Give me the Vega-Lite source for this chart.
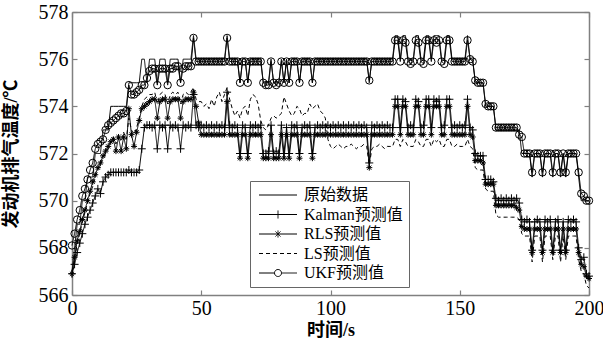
{
"$schema":"https://vega.github.io/schema/vega-lite/v6.json",
"width":517,"height":283,
"autosize":{"type":"none"},
"padding":{"left":72,"top":12,"right":14,"bottom":57},
"background":"white",
"config":{"view":{"stroke":null},"font":"'Liberation Serif', 'Times New Roman', serif",
"axis":{"domainColor":"#808080","domainWidth":1.5,"tickColor":"#808080","tickSize":-5,"tickWidth":1.2,"grid":false,"labelFont":"'Liberation Serif', 'Times New Roman', serif","labelFontSize":20,"labelColor":"black","labelFlush":false,"labelOverlap":false,"labelPadding":5,"titleFont":"'Liberation Serif', 'Noto Sans CJK SC', serif","titleFontSize":18,"titleFontWeight":"bold","titleColor":"black"}},
"data":{"values":[
{"t":0,"o":567,"k":566.9,"r":566.9,"l":567.0,"u":568.1},
{"t":1,"o":568,"k":567.3,"r":567.6,"l":567.5,"u":568.6},
{"t":2,"o":569,"k":567.8,"r":568.3,"l":568.2,"u":569.2},
{"t":3,"o":569,"k":568.2,"r":568.7,"l":568.6,"u":569.6},
{"t":4,"o":570,"k":568.6,"r":569.2,"l":569.1,"u":570.2},
{"t":5,"o":570,"k":569.0,"r":569.6,"l":569.5,"u":570.5},
{"t":6,"o":571,"k":569.3,"r":570.0,"l":569.9,"u":570.9},
{"t":7,"o":571,"k":569.6,"r":570.4,"l":570.3,"u":571.3},
{"t":8,"o":571,"k":569.9,"r":570.8,"l":570.6,"u":571.6},
{"t":9,"o":572,"k":570.2,"r":571.1,"l":571.0,"u":572.2},
{"t":10,"o":572,"k":570.5,"r":571.4,"l":571.3,"u":572.4},
{"t":11,"o":572,"k":570.3,"r":571.6,"l":571.5,"u":572.5},
{"t":12,"o":573,"k":570.8,"r":571.9,"l":571.8,"u":572.6},
{"t":13,"o":573,"k":571.0,"r":572.1,"l":572.0,"u":573.0},
{"t":14,"o":573,"k":571.1,"r":572.3,"l":572.2,"u":573.2},
{"t":15,"o":574,"k":571.2,"r":572.5,"l":572.5,"u":573.3},
{"t":16,"o":574,"k":571.2,"r":572.6,"l":572.7,"u":573.4},
{"t":17,"o":574,"k":571.2,"r":572.1,"l":572.4,"u":573.5},
{"t":18,"o":574,"k":571.2,"r":572.7,"l":572.8,"u":573.6},
{"t":19,"o":574,"k":571.2,"r":572.1,"l":572.5,"u":573.7},
{"t":20,"o":574,"k":571.2,"r":572.7,"l":572.9,"u":573.7},
{"t":21,"o":574,"k":571.2,"r":572.2,"l":572.6,"u":573.8},
{"t":22,"o":575,"k":571.3,"r":573.9,"l":573.5,"u":574.9},
{"t":23,"o":575,"k":571.2,"r":572.8,"l":573.0,"u":574.5},
{"t":24,"o":575,"k":571.2,"r":572.3,"l":572.8,"u":574.5},
{"t":25,"o":575,"k":571.2,"r":572.9,"l":573.1,"u":574.6},
{"t":26,"o":575,"k":571.3,"r":573.4,"l":573.5,"u":574.7},
{"t":27,"o":576,"k":572.2,"r":573.9,"l":574.0,"u":574.9},
{"t":28,"o":576,"k":573.1,"r":574.0,"l":574.3,"u":574.9},
{"t":29,"o":575,"k":573.2,"r":574.1,"l":574.4,"u":575.2},
{"t":30,"o":576,"k":573.2,"r":574.2,"l":574.5,"u":575.5},
{"t":31,"o":576,"k":573.1,"r":574.3,"l":574.5,"u":575.6},
{"t":32,"o":576,"k":573.2,"r":574.3,"l":574.6,"u":575.6},
{"t":33,"o":575,"k":572.2,"r":573.5,"l":574.1,"u":574.9},
{"t":34,"o":576,"k":573.2,"r":574.2,"l":574.5,"u":575.6},
{"t":35,"o":576,"k":573.1,"r":574.3,"l":574.6,"u":575.6},
{"t":36,"o":576,"k":573.2,"r":574.3,"l":574.5,"u":575.6},
{"t":37,"o":575,"k":572.2,"r":573.5,"l":574.1,"u":574.9},
{"t":38,"o":576,"k":573.2,"r":574.2,"l":574.5,"u":575.6},
{"t":39,"o":576,"k":573.1,"r":574.3,"l":574.6,"u":575.6},
{"t":40,"o":576,"k":573.2,"r":574.3,"l":574.5,"u":575.7},
{"t":41,"o":576,"k":573.1,"r":574.3,"l":574.6,"u":575.7},
{"t":42,"o":575,"k":572.2,"r":573.5,"l":574.1,"u":575.0},
{"t":43,"o":576,"k":573.2,"r":574.2,"l":574.5,"u":575.6},
{"t":44,"o":576,"k":573.1,"r":574.3,"l":574.6,"u":575.7},
{"t":45,"o":576,"k":573.2,"r":574.3,"l":574.5,"u":575.7},
{"t":46,"o":576,"k":573.1,"r":574.3,"l":574.6,"u":575.7},
{"t":47,"o":577,"k":574.5,"r":574.6,"l":574.8,"u":576.9},
{"t":48,"o":576,"k":573.2,"r":574.0,"l":574.3,"u":575.9},
{"t":49,"o":576,"k":573.1,"r":573.3,"l":574.2,"u":575.9},
{"t":50,"o":576,"k":573.2,"r":572.8,"l":574.2,"u":575.9},
{"t":51,"o":576,"k":573.1,"r":572.8,"l":574.0,"u":575.9},
{"t":52,"o":576,"k":573.2,"r":572.8,"l":574.1,"u":575.9},
{"t":53,"o":576,"k":573.1,"r":572.8,"l":573.9,"u":575.9},
{"t":54,"o":576,"k":573.2,"r":572.8,"l":574.3,"u":575.9},
{"t":55,"o":576,"k":573.1,"r":572.8,"l":574.0,"u":575.9},
{"t":56,"o":576,"k":573.2,"r":572.8,"l":574.4,"u":575.9},
{"t":57,"o":576,"k":573.1,"r":572.8,"l":574.6,"u":575.9},
{"t":58,"o":576,"k":573.2,"r":572.8,"l":574.2,"u":575.9},
{"t":59,"o":576,"k":573.1,"r":572.8,"l":574.5,"u":575.9},
{"t":60,"o":577,"k":574.6,"r":574.2,"l":574.8,"u":576.9},
{"t":61,"o":576,"k":573.2,"r":572.8,"l":574.3,"u":575.9},
{"t":62,"o":576,"k":573.1,"r":572.8,"l":573.9,"u":575.9},
{"t":63,"o":576,"k":573.2,"r":572.8,"l":573.6,"u":575.9},
{"t":64,"o":576,"k":573.1,"r":572.8,"l":573.8,"u":575.9},
{"t":65,"o":575,"k":572.0,"r":571.8,"l":573.5,"u":575.0},
{"t":66,"o":576,"k":573.2,"r":572.8,"l":573.9,"u":575.9},
{"t":67,"o":576,"k":573.1,"r":572.8,"l":574.0,"u":575.9},
{"t":68,"o":575,"k":572.0,"r":571.8,"l":573.6,"u":575.0},
{"t":69,"o":576,"k":573.2,"r":572.8,"l":574.3,"u":575.9},
{"t":70,"o":576,"k":573.1,"r":572.8,"l":574.5,"u":575.9},
{"t":71,"o":576,"k":573.2,"r":572.8,"l":574.4,"u":575.9},
{"t":72,"o":576,"k":573.1,"r":572.8,"l":574.1,"u":575.9},
{"t":73,"o":576,"k":573.2,"r":572.8,"l":573.4,"u":575.9},
{"t":74,"o":575,"k":572.0,"r":571.8,"l":573.1,"u":575.0},
{"t":75,"o":575,"k":572.0,"r":571.8,"l":573.0,"u":574.9},
{"t":76,"o":575,"k":572.1,"r":571.8,"l":573.2,"u":574.9},
{"t":77,"o":576,"k":573.2,"r":572.8,"l":573.5,"u":575.9},
{"t":78,"o":575,"k":572.0,"r":571.8,"l":573.6,"u":575.0},
{"t":79,"o":575,"k":572.1,"r":571.8,"l":573.5,"u":574.9},
{"t":80,"o":575,"k":572.0,"r":571.8,"l":573.6,"u":575.0},
{"t":81,"o":576,"k":573.2,"r":572.8,"l":573.7,"u":575.9},
{"t":82,"o":575,"k":572.0,"r":571.8,"l":574.4,"u":575.0},
{"t":83,"o":576,"k":573.1,"r":572.8,"l":574.1,"u":575.9},
{"t":84,"o":575,"k":572.0,"r":571.8,"l":573.8,"u":575.0},
{"t":85,"o":576,"k":573.2,"r":572.8,"l":573.6,"u":575.9},
{"t":86,"o":576,"k":573.1,"r":572.8,"l":573.7,"u":575.9},
{"t":87,"o":576,"k":573.2,"r":572.8,"l":574.0,"u":575.9},
{"t":88,"o":575,"k":572.0,"r":571.8,"l":573.9,"u":575.0},
{"t":89,"o":576,"k":573.1,"r":572.8,"l":573.6,"u":575.9},
{"t":90,"o":576,"k":573.2,"r":572.8,"l":573.7,"u":575.9},
{"t":91,"o":576,"k":573.1,"r":572.8,"l":573.7,"u":575.9},
{"t":92,"o":576,"k":573.2,"r":572.8,"l":574.1,"u":575.9},
{"t":93,"o":575,"k":572.0,"r":571.8,"l":573.9,"u":575.0},
{"t":94,"o":576,"k":573.1,"r":572.8,"l":574.0,"u":575.9},
{"t":95,"o":576,"k":573.2,"r":572.8,"l":574.1,"u":575.9},
{"t":96,"o":576,"k":573.1,"r":572.8,"l":573.8,"u":575.9},
{"t":97,"o":576,"k":573.2,"r":572.8,"l":573.7,"u":575.9},
{"t":98,"o":576,"k":573.1,"r":572.8,"l":573.5,"u":575.9},
{"t":99,"o":576,"k":573.2,"r":572.8,"l":572.6,"u":575.9},
{"t":100,"o":576,"k":573.1,"r":572.8,"l":572.3,"u":575.9},
{"t":101,"o":576,"k":573.2,"r":572.8,"l":572.2,"u":575.9},
{"t":102,"o":576,"k":573.1,"r":572.8,"l":572.3,"u":575.9},
{"t":103,"o":576,"k":573.2,"r":572.8,"l":572.4,"u":575.9},
{"t":104,"o":576,"k":573.1,"r":572.8,"l":572.3,"u":575.9},
{"t":105,"o":576,"k":573.2,"r":572.8,"l":572.2,"u":575.9},
{"t":106,"o":576,"k":573.1,"r":572.8,"l":572.3,"u":575.9},
{"t":107,"o":576,"k":573.2,"r":572.8,"l":572.3,"u":575.9},
{"t":108,"o":576,"k":573.1,"r":572.8,"l":572.4,"u":575.9},
{"t":109,"o":576,"k":573.2,"r":572.8,"l":572.3,"u":575.9},
{"t":110,"o":576,"k":573.1,"r":572.8,"l":572.2,"u":575.9},
{"t":111,"o":576,"k":573.2,"r":572.8,"l":572.3,"u":575.9},
{"t":112,"o":576,"k":573.1,"r":572.8,"l":572.3,"u":575.9},
{"t":113,"o":576,"k":573.2,"r":572.8,"l":572.4,"u":575.9},
{"t":114,"o":576,"k":573.1,"r":572.8,"l":572.3,"u":575.9},
{"t":115,"o":575,"k":571.6,"r":571.4,"l":571.5,"u":575.1},
{"t":116,"o":576,"k":573.2,"r":572.8,"l":572.2,"u":575.9},
{"t":117,"o":576,"k":573.1,"r":572.8,"l":572.3,"u":575.9},
{"t":118,"o":576,"k":573.2,"r":572.8,"l":572.3,"u":575.9},
{"t":119,"o":576,"k":573.1,"r":572.8,"l":572.4,"u":575.9},
{"t":120,"o":576,"k":573.2,"r":572.8,"l":572.3,"u":575.9},
{"t":121,"o":576,"k":573.1,"r":572.8,"l":572.2,"u":575.9},
{"t":122,"o":576,"k":573.2,"r":572.8,"l":572.3,"u":575.9},
{"t":123,"o":576,"k":573.1,"r":572.8,"l":572.3,"u":575.9},
{"t":124,"o":576,"k":573.1,"r":572.8,"l":572.3,"u":575.9},
{"t":125,"o":577,"k":574.3,"r":574.0,"l":572.6,"u":576.8},
{"t":126,"o":577,"k":574.3,"r":574.0,"l":572.6,"u":576.8},
{"t":127,"o":576,"k":573.1,"r":572.8,"l":572.3,"u":575.9},
{"t":128,"o":577,"k":574.3,"r":574.0,"l":572.6,"u":576.8},
{"t":129,"o":577,"k":574.2,"r":574.0,"l":572.5,"u":576.7},
{"t":130,"o":576,"k":573.1,"r":572.8,"l":572.3,"u":575.9},
{"t":131,"o":576,"k":573.2,"r":572.8,"l":572.3,"u":575.8},
{"t":132,"o":576,"k":573.1,"r":572.8,"l":572.3,"u":575.9},
{"t":133,"o":577,"k":574.3,"r":574.0,"l":572.6,"u":576.8},
{"t":134,"o":577,"k":574.2,"r":574.0,"l":572.5,"u":576.7},
{"t":135,"o":576,"k":573.1,"r":572.8,"l":572.3,"u":575.9},
{"t":136,"o":576,"k":573.2,"r":572.8,"l":572.3,"u":575.8},
{"t":137,"o":577,"k":574.3,"r":574.0,"l":572.6,"u":576.8},
{"t":138,"o":577,"k":574.3,"r":574.0,"l":572.6,"u":576.8},
{"t":139,"o":576,"k":573.1,"r":572.8,"l":572.3,"u":575.9},
{"t":140,"o":577,"k":574.3,"r":574.0,"l":572.6,"u":576.8},
{"t":141,"o":577,"k":574.2,"r":574.0,"l":572.5,"u":576.7},
{"t":142,"o":577,"k":574.3,"r":574.0,"l":572.6,"u":576.8},
{"t":143,"o":576,"k":573.1,"r":572.8,"l":572.3,"u":575.9},
{"t":144,"o":576,"k":573.2,"r":572.8,"l":572.3,"u":575.8},
{"t":145,"o":577,"k":574.3,"r":574.0,"l":572.6,"u":576.8},
{"t":146,"o":577,"k":574.3,"r":574.0,"l":572.6,"u":576.8},
{"t":147,"o":576,"k":573.1,"r":572.8,"l":572.3,"u":575.9},
{"t":148,"o":576,"k":573.2,"r":572.8,"l":572.3,"u":575.9},
{"t":149,"o":576,"k":573.1,"r":572.8,"l":572.4,"u":575.9},
{"t":150,"o":576,"k":573.2,"r":572.8,"l":572.3,"u":575.9},
{"t":151,"o":576,"k":573.1,"r":572.8,"l":572.3,"u":575.9},
{"t":152,"o":576,"k":573.2,"r":572.8,"l":572.3,"u":575.9},
{"t":153,"o":577,"k":574.3,"r":574.0,"l":572.6,"u":576.8},
{"t":154,"o":576,"k":573.1,"r":572.8,"l":572.3,"u":576.0},
{"t":155,"o":576,"k":573.0,"r":572.7,"l":572.2,"u":575.9},
{"t":156,"o":575,"k":572.0,"r":571.7,"l":571.4,"u":575.1},
{"t":157,"o":575,"k":571.9,"r":571.7,"l":571.3,"u":575.0},
{"t":158,"o":575,"k":571.9,"r":571.7,"l":571.3,"u":575.0},
{"t":159,"o":575,"k":571.9,"r":571.6,"l":571.3,"u":575.0},
{"t":160,"o":574,"k":570.9,"r":570.7,"l":570.5,"u":574.1},
{"t":161,"o":574,"k":570.9,"r":570.7,"l":570.4,"u":574.0},
{"t":162,"o":574,"k":570.9,"r":570.7,"l":570.4,"u":574.0},
{"t":163,"o":574,"k":570.8,"r":570.7,"l":570.4,"u":574.0},
{"t":164,"o":573,"k":570.1,"r":569.8,"l":569.4,"u":573.1},
{"t":165,"o":573,"k":570.0,"r":569.8,"l":569.3,"u":573.1},
{"t":166,"o":573,"k":570.1,"r":569.8,"l":569.3,"u":573.1},
{"t":167,"o":573,"k":570.0,"r":569.8,"l":569.3,"u":573.1},
{"t":168,"o":573,"k":570.1,"r":569.8,"l":569.3,"u":573.1},
{"t":169,"o":573,"k":570.0,"r":569.8,"l":569.3,"u":573.1},
{"t":170,"o":573,"k":570.1,"r":569.8,"l":569.3,"u":573.1},
{"t":171,"o":573,"k":570.0,"r":569.8,"l":569.3,"u":573.1},
{"t":172,"o":573,"k":570.1,"r":569.7,"l":569.3,"u":573.1},
{"t":173,"o":573,"k":569.9,"r":569.6,"l":569.2,"u":572.8},
{"t":174,"o":572,"k":569.2,"r":568.9,"l":568.6,"u":572.7},
{"t":175,"o":572,"k":569.1,"r":568.8,"l":568.5,"u":572.0},
{"t":176,"o":572,"k":569.2,"r":568.8,"l":568.5,"u":572.0},
{"t":177,"o":572,"k":569.1,"r":568.8,"l":568.5,"u":572.0},
{"t":178,"o":571,"k":567.9,"r":567.8,"l":567.4,"u":571.2},
{"t":179,"o":572,"k":569.1,"r":568.8,"l":568.5,"u":572.0},
{"t":180,"o":572,"k":569.2,"r":568.8,"l":568.5,"u":572.0},
{"t":181,"o":572,"k":569.1,"r":568.8,"l":568.5,"u":572.0},
{"t":182,"o":571,"k":567.9,"r":567.8,"l":567.4,"u":571.2},
{"t":183,"o":572,"k":569.2,"r":568.8,"l":568.5,"u":572.0},
{"t":184,"o":572,"k":569.1,"r":568.8,"l":568.5,"u":572.0},
{"t":185,"o":572,"k":569.2,"r":568.8,"l":568.5,"u":572.0},
{"t":186,"o":571,"k":567.9,"r":567.8,"l":567.5,"u":571.2},
{"t":187,"o":572,"k":569.1,"r":568.8,"l":568.5,"u":572.0},
{"t":188,"o":572,"k":569.2,"r":568.8,"l":568.5,"u":572.0},
{"t":189,"o":571,"k":567.9,"r":567.8,"l":567.4,"u":571.2},
{"t":190,"o":572,"k":569.1,"r":568.8,"l":568.5,"u":572.0},
{"t":191,"o":571,"k":567.9,"r":567.8,"l":567.5,"u":571.2},
{"t":192,"o":572,"k":569.2,"r":568.8,"l":568.5,"u":572.0},
{"t":193,"o":572,"k":569.1,"r":568.8,"l":568.5,"u":572.0},
{"t":194,"o":572,"k":569.2,"r":568.8,"l":568.5,"u":572.0},
{"t":195,"o":572,"k":569.1,"r":568.8,"l":568.5,"u":572.0},
{"t":196,"o":571,"k":568.0,"r":567.8,"l":567.5,"u":571.2},
{"t":197,"o":570,"k":567.5,"r":567.3,"l":567.0,"u":570.3},
{"t":198,"o":570,"k":567.6,"r":567.2,"l":566.9,"u":570.2},
{"t":199,"o":570,"k":566.9,"r":566.8,"l":566.4,"u":570.0},
{"t":200,"o":570,"k":566.8,"r":566.7,"l":566.3,"u":570.0}
]},
"transform":[{"fold":["o","k","r","l","u"],"as":["s","v"]}],
"layer":[
{"mark":{"type":"line","color":"black","strokeWidth":1},
 "encoding":{
  "x":{"field":"t","type":"quantitative","scale":{"domain":[0,200],"nice":false},"axis":{"orient":"bottom","values":[0,50,100,150,200],"title":"时间/s","titlePadding":3,"labelPadding":8,"labelFont":"'Liberation Serif', 'Times New Roman', serif","titleFont":"'Liberation Serif', 'Noto Sans CJK SC', serif"}},
  "y":{"field":"v","type":"quantitative","scale":{"domain":[566,578],"nice":false,"zero":false},"axis":{"orient":"left","values":[566,568,570,572,574,576,578],"title":"发动机排气温度/℃","titlePadding":18,"labelPadding":9,"labelFont":"'Liberation Serif', 'Times New Roman', serif","titleFont":"'Liberation Serif', 'Noto Sans CJK SC', serif"}},
  "strokeDash":{"field":"s","type":"nominal","scale":{"domain":["o","k","r","l","u"],"range":[[1,0],[1,0],[1,0],[4,3],[1,0]]},
   "legend":{"title":null,"orient":"none","legendX":178,"legendY":169,
    "labelExpr":"datum.value === 'o' ? '原始数据' : datum.value === 'k' ? 'Kalman预测值' : datum.value === 'r' ? 'RLS预测值' : datum.value === 'l' ? 'LS预测值' : 'UKF预测值'",
    "labelFont":"'Liberation Serif', 'Noto Sans CJK SC', serif","labelFontSize":16,"labelColor":"black","labelLimit":300,
    "symbolSize":100,"symbolStrokeColor":"black","symbolStrokeWidth":1,"symbolFillColor":"transparent","symbolOffset":14,"labelOffset":18,
    "rowPadding":3.5,"padding":6,"strokeColor":"#666666","fillColor":"white",
    "encode":{"symbols":{"update":{"shape":{"signal":"datum.value === 'k' ? 'M-3.8,0L3.8,0M0,-0.8L0,0.8' : datum.value === 'r' ? 'M-3.8,0L3.8,0M0,-0.7L0,0.7M-0.5,-0.5L0.5,0.5M-0.5,0.5L0.5,-0.5' : datum.value === 'u' ? 'M-3.8,0L-0.7,0A0.7,0.7,0,1,1,0.7,0A0.7,0.7,0,1,1,-0.7,0M0.7,0L3.8,0' : 'M-3.8,0L3.8,0'"},"fill":{"value":"transparent"},"stroke":{"value":"black"}}}}
   }}
 }},
{"transform":[{"filter":"datum.s === 'k'"}],
 "mark":{"type":"point","shape":"M-1,0L1,0M0,-1L0,1","size":64,"stroke":"black","strokeWidth":1,"filled":false,"opacity":1},
 "encoding":{
  "x":{"field":"t","type":"quantitative","scale":{"domain":[0,200],"nice":false},"axis":{"orient":"top","values":[0,50,100,150,200],"labels":false,"title":null}},
  "y":{"field":"v","type":"quantitative","scale":{"domain":[566,578],"nice":false,"zero":false},"axis":{"orient":"right","values":[566,568,570,572,574,576,578],"labels":false,"title":null}}
 }},
{"transform":[{"filter":"datum.s === 'r'"}],
 "mark":{"type":"point","shape":"M-1,0L1,0M0,-1L0,1M-0.7,-0.7L0.7,0.7M-0.7,0.7L0.7,-0.7","size":36,"stroke":"black","strokeWidth":1,"filled":false,"opacity":1},
 "encoding":{
  "x":{"field":"t","type":"quantitative","scale":{"domain":[0,200],"nice":false},"axis":null},
  "y":{"field":"v","type":"quantitative","scale":{"domain":[566,578],"nice":false,"zero":false},"axis":null}
 }},
{"transform":[{"filter":"datum.s === 'u'"}],
 "mark":{"type":"point","shape":"circle","size":55,"stroke":"black","strokeWidth":1,"filled":false,"opacity":1},
 "encoding":{
  "x":{"field":"t","type":"quantitative","scale":{"domain":[0,200],"nice":false},"axis":null},
  "y":{"field":"v","type":"quantitative","scale":{"domain":[566,578],"nice":false,"zero":false},"axis":null}
 }}
],
"resolve":{"axis":{"x":"independent","y":"independent"}}
}
